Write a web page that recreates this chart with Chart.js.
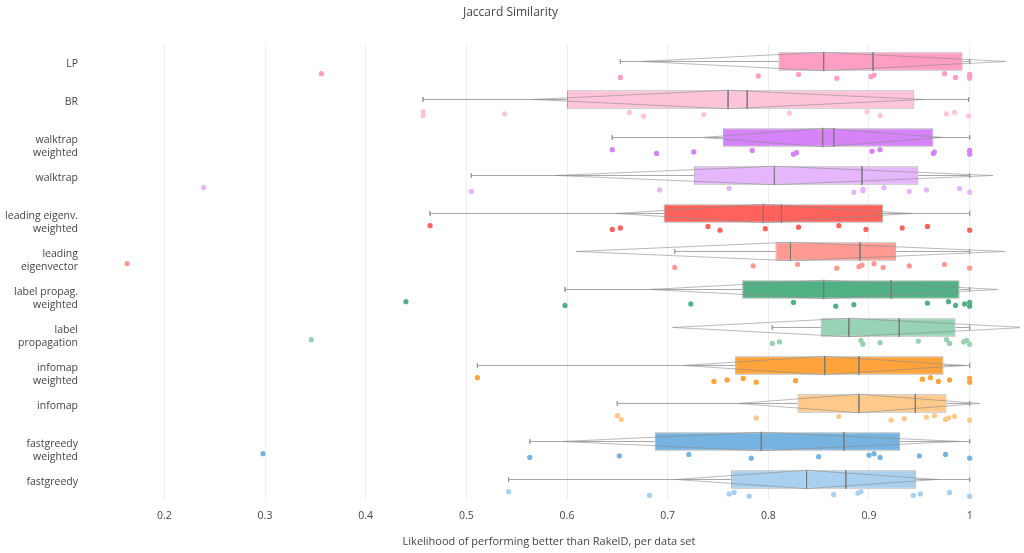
<!DOCTYPE html>
<html>
<head>
<meta charset="utf-8">
<script src="https://cdn.jsdelivr.net/npm/chart.js@4.4.1/dist/chart.umd.min.js"></script>
<style>
  body { margin: 0; background: #fff; }
  #wrap { width: 1024px; height: 553px; }
</style>
</head>
<body>
<div id="wrap"><canvas id="myChart"></canvas></div>
<script>
// categories, top to bottom
const categories = ['LP', 'BR', 'walktrap\nweighted', 'walktrap', 'leading eigenv.\nweighted',
  'leading\neigenvector', 'label propag.\nweighted', 'label\npropagation', 'infomap\nweighted',
  'infomap', 'fastgreedy\nweighted', 'fastgreedy'];

const boxColors = ['#ff9dc2', '#ffc4d9', '#d683f9', '#e5b6fb', '#ff625b', '#ff9a93',
  '#52b184', '#96d2b3', '#ffa33a', '#ffc98a', '#76b3e0', '#a9d0ee'];

// box statistics
const whiskerLow  = [0.653, 0.457, 0.645, 0.505, 0.464, 0.707, 0.598, 0.804, 0.511, 0.650, 0.563, 0.542];
const q1          = [0.810, 0.600, 0.755, 0.726, 0.696, 0.807, 0.774, 0.852, 0.767, 0.829, 0.687, 0.763];
const median      = [0.904, 0.779, 0.865, 0.893, 0.813, 0.891, 0.922, 0.930, 0.890, 0.946, 0.875, 0.877];
const q3          = [0.993, 0.945, 0.964, 0.949, 0.914, 0.927, 0.990, 0.986, 0.974, 0.977, 0.931, 0.947];
const whiskerHigh = [1.000, 0.999, 1.000, 1.000, 1.000, 1.000, 1.000, 1.000, 1.000, 1.000, 1.000, 1.000];
const mean        = [0.855, 0.760, 0.854, 0.806, 0.795, 0.822, 0.855, 0.880, 0.856, 0.890, 0.793, 0.838];
const sd          = [0.181, 0.194, 0.119, 0.217, 0.147, 0.213, 0.173, 0.175, 0.140, 0.120, 0.197, 0.130];

// one value per data set
const pointsLP   = [0.356, 0.653, 0.790, 0.830, 0.868, 0.902, 0.905, 0.975, 0.986, 1, 1, 1];
const pointsBR   = [0.457, 0.457, 0.538, 0.662, 0.676, 0.736, 0.821, 0.898, 0.911, 0.977, 0.985, 0.999];
const pointsWTw  = [0.645, 0.689, 0.726, 0.784, 0.825, 0.828, 0.903, 0.911, 0.964, 0.965, 1, 1];
const pointsWT   = [0.239, 0.505, 0.692, 0.761, 0.885, 0.894, 0.894, 0.915, 0.940, 0.957, 0.990, 1];
const pointsLEw  = [0.464, 0.645, 0.653, 0.740, 0.752, 0.797, 0.830, 0.870, 0.897, 0.933, 0.958, 1];
const pointsLE   = [0.163, 0.707, 0.785, 0.829, 0.868, 0.890, 0.893, 0.905, 0.914, 0.940, 0.975, 1];
const pointsLPw  = [0.440, 0.598, 0.723, 0.825, 0.867, 0.885, 0.958, 0.979, 0.986, 0.995, 1, 1];
const pointsLPr  = [0.346, 0.804, 0.811, 0.892, 0.894, 0.911, 0.949, 0.977, 0.980, 0.994, 0.997, 1];
const pointsIMw  = [0.511, 0.746, 0.759, 0.775, 0.788, 0.827, 0.953, 0.961, 0.969, 0.980, 1, 1];
const pointsIM   = [0.650, 0.654, 0.788, 0.870, 0.922, 0.935, 0.957, 0.965, 0.976, 0.979, 0.985, 1];
const pointsFGw  = [0.298, 0.563, 0.652, 0.721, 0.783, 0.850, 0.900, 0.905, 0.911, 0.950, 0.976, 1];
const pointsFG   = [0.542, 0.682, 0.761, 0.766, 0.781, 0.865, 0.889, 0.892, 0.944, 0.951, 0.980, 1];
const allPoints = [pointsLP, pointsBR, pointsWTw, pointsWT, pointsLEw, pointsLE,
  pointsLPw, pointsLPr, pointsIMw, pointsIM, pointsFGw, pointsFG];

const xTicks = [0.2, 0.3, 0.4, 0.5, 0.6, 0.7, 0.8, 0.9, 1];
const xTickLabels = ['0.2', '0.3', '0.4', '0.5', '0.6', '0.7', '0.8', '0.9', '1'];
const xTitle = 'Likelihood of performing better than RakelD, per data set';

// layout offsets (in category units)
const boxShift = -0.04;
const boxHalf = 0.243;
const pointShift = 0.34;
const capHalf = 0.06;
const jit = j => ((j * 5) % 7 - 3) * 0.02;

const gap = { x: 0, y: null };
let whiskers = [], caps = [], medians = [], means = [], diamonds = [];
categories.forEach((c, i) => {
    const yb = i + boxShift;
    whiskers.push({ x: whiskerLow[i], y: yb }, { x: q1[i], y: yb }, gap,
                  { x: q3[i], y: yb }, { x: whiskerHigh[i], y: yb }, gap);
    caps.push({ x: whiskerLow[i], y: yb - capHalf }, { x: whiskerLow[i], y: yb + capHalf }, gap,
              { x: whiskerHigh[i], y: yb - capHalf }, { x: whiskerHigh[i], y: yb + capHalf }, gap);
    medians.push({ x: median[i], y: yb - boxHalf }, { x: median[i], y: yb + boxHalf }, gap);
    means.push({ x: mean[i], y: yb - boxHalf }, { x: mean[i], y: yb + boxHalf }, gap);
    diamonds.push({ x: mean[i] - sd[i], y: yb }, { x: mean[i], y: yb - boxHalf },
                  { x: mean[i] + sd[i], y: yb }, { x: mean[i], y: yb + boxHalf },
                  { x: mean[i] - sd[i], y: yb }, gap);
});

function lineSet(data, color, order) {
    return {
        type: 'line', data: data, borderColor: color, borderWidth: 1,
        pointRadius: 0, tension: 0, fill: false, order: order, spanGaps: false
    };
}

const datasets = [];
datasets.push({
    type: 'bar',
    indexAxis: 'y',
    data: categories.map((c, i) => ({ y: i + boxShift, x: [q1[i], q3[i]] })),
    backgroundColor: boxColors,
    borderColor: 'rgba(120,120,120,0.6)',
    borderWidth: 1,
    borderSkipped: false,
    barPercentage: boxHalf * 2,
    categoryPercentage: 1,
    order: 5
});
datasets.push(lineSet(whiskers, 'rgba(150,150,150,0.85)', 4));
datasets.push(lineSet(caps, 'rgba(150,150,150,0.85)', 4));
datasets.push(lineSet(diamonds, 'rgba(140,140,140,0.6)', 3));
datasets.push(lineSet(medians, 'rgba(120,120,120,0.75)', 2));
datasets.push(lineSet(means, 'rgba(120,120,120,0.75)', 2));
allPoints.forEach((pts, i) => {
    datasets.push({
        type: 'scatter',
        data: pts.map((v, j) => ({ x: v, y: i + pointShift + jit(j) })),
        backgroundColor: boxColors[i],
        borderWidth: 0,
        pointRadius: 2.6,
        order: 1
    });
});

// axis title, centred the way the original places it
const xTitlePlugin = {
    id: 'xTitle',
    afterDraw(chart) {
        const ctx = chart.ctx;
        ctx.save();
        ctx.font = "11px 'Open Sans', sans-serif";
        ctx.fillStyle = '#444';
        ctx.textAlign = 'center';
        ctx.textBaseline = 'middle';
        ctx.fillText(xTitle, 549, 541.5);
        ctx.restore();
    }
};

Chart.defaults.font.family = "'Open Sans', sans-serif";
Chart.defaults.font.size = 11;
Chart.defaults.color = '#444';

const myChart = new Chart(document.getElementById('myChart'), {
    type: 'scatter',
    data: { datasets: datasets },
    plugins: [xTitlePlugin],
    options: {
        responsive: true,
        maintainAspectRatio: false,
        animation: false,
        layout: { padding: { left: 0, right: 3, top: 0, bottom: 0 } },
        plugins: {
            legend: { display: false },
            tooltip: { enabled: false },
            title: {
                display: true,
                text: 'Jaccard Similarity',
                color: '#444',
                font: { size: 12, weight: 'normal' },
                padding: { top: 5, bottom: 24.6 }
            }
        },
        scales: {
            x: {
                type: 'linear',
                min: 0.15,
                max: 1.05,
                offset: false,
                afterBuildTicks: s => { s.ticks = xTicks.map(v => ({ value: v })); },
                afterFit: s => { s.height = 53; },
                ticks: {
                    padding: 10,
                    font: { size: 10.5 },
                    callback: (v) => xTickLabels[xTicks.indexOf(v)]
                },
                grid: { color: '#eeeeee', drawTicks: false, offset: false },
                border: { display: false }
            },
            y: {
                type: 'linear',
                min: -0.5,
                max: 11.5,
                reverse: true,
                offset: false,
                afterBuildTicks: s => { s.ticks = categories.map((c, i) => ({ value: i })); },
                afterFit: s => { s.width = 114; },
                ticks: {
                    padding: 28,
                    labelOffset: 7.8,
                    font: { size: 10.5, lineHeight: 1.2 },
                    callback: (v) => {
                        const lines = categories[v].split('\n');
                        if (lines.length < 2) lines.push('');
                        return lines;
                    }
                },
                grid: { display: false, offset: false },
                border: { display: false }
            }
        }
    }
});
</script>
</body>
</html>
